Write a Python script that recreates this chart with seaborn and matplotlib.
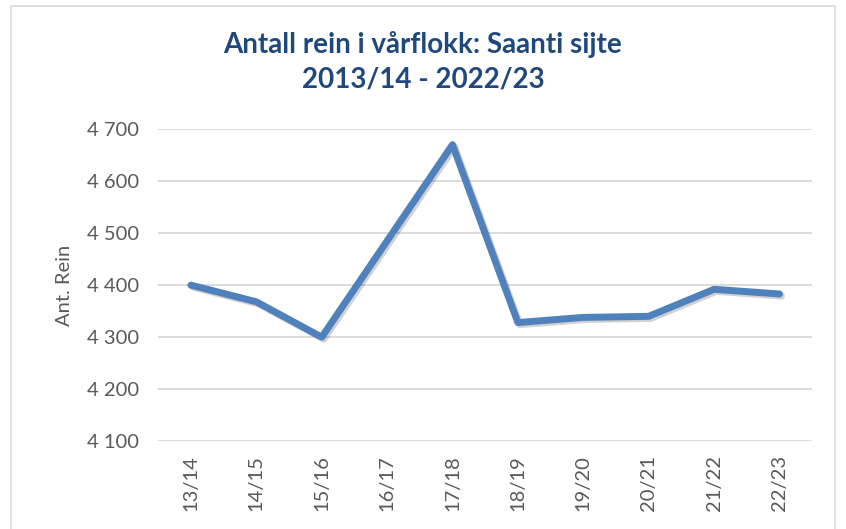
import matplotlib
matplotlib.use("Agg")
import matplotlib.pyplot as plt
import matplotlib.patheffects as pe
from matplotlib.patches import Rectangle
from matplotlib.ticker import FuncFormatter
import seaborn as sns
import pandas as pd

# data
seasons = ["13/14", "14/15", "15/16", "16/17", "17/18",
           "18/19", "19/20", "20/21", "21/22", "22/23"]
rein = [4400, 4368, 4300, 4485, 4670, 4328, 4338, 4340, 4392, 4383]

df = pd.DataFrame({"season": seasons, "rein": rein})

sns.set_style("white")
plt.rcParams["font.family"] = ["Lato", "DejaVu Sans"]

fig = plt.figure(figsize=(8.46, 5.29), dpi=100)
ax = fig.add_axes([0.187, 0.166, 0.773, 0.590])

sns.lineplot(data=df, x="season", y="rein", sort=False, ax=ax,
             color="#4F81BD", linewidth=5, solid_capstyle="round",
             path_effects=[pe.SimpleLineShadow(offset=(1.5, -1.5), alpha=0.18),
                           pe.Normal()])

ax.set_ylim(4100, 4700)
ax.set_xlim(-0.5, len(seasons) - 0.5)
ax.set_yticks(range(4100, 4701, 100))
ax.yaxis.set_major_formatter(FuncFormatter(lambda v, p: f"{int(v):,}".replace(",", " ")))
ax.grid(axis="y", color="#D9D9D9", linewidth=1.3)
ax.set_axisbelow(True)
for s in ax.spines.values():
    s.set_visible(False)
ax.tick_params(axis="both", length=0, colors="#595959", labelsize=14.5)
ax.tick_params(axis="x", rotation=90, pad=10)
ax.tick_params(axis="y", pad=14)
ax.set_xlabel("")
ax.set_ylabel("Ant. Rein", color="#595959", fontsize=14.5, labelpad=10)

fig.text(0.5, 0.883, "Antall rein i vårflokk: Saanti sijte\n2013/14 - 2022/23",
         ha="center", va="center", fontsize=20, fontweight="bold",
         color="#1F497D", linespacing=1.4)

fig.patches.append(Rectangle((11 / 846, -0.01), 824 / 846, 1 - 6 / 529 + 0.01,
                             transform=fig.transFigure, fill=False,
                             edgecolor="#D9D9D9", linewidth=1.2))

fig.savefig("out.png", dpi=100)
